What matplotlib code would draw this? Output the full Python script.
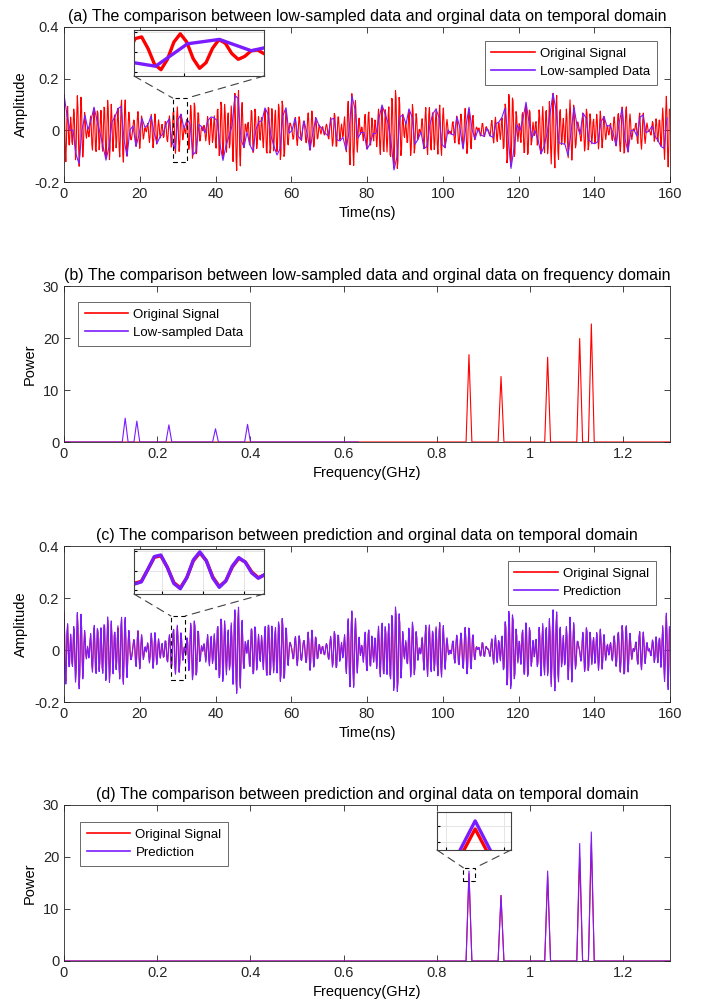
import numpy as np
import matplotlib
matplotlib.use('Agg')
import matplotlib.pyplot as plt
from matplotlib.patches import ConnectionPatch, Rectangle

plt.rcParams['font.family'] = ['Liberation Sans', 'DejaVu Sans']

# spectral lines (b) and (d): bin index (1 bin = 1/160 GHz)
tone_bins = np.array([139, 150, 166, 177, 181])
orig_power = np.array([16.8, 12.6, 16.3, 19.9, 22.7])
pred_power = np.array([17.3, 12.6, 17.3, 22.6, 24.8])
# tone phases (rad), fitted to the burst pattern seen in panels (a)/(c)
phases = np.array([0.000, 4.937, 0.581, 0.802, 6.054])

T_total = 160.0      # ns
N0 = 1000            # samples of the original record
fs_low = 1.2625      # GHz, low sampling rate (aliases seen in panel b)

f_tone = tone_bins / T_total
t0 = np.arange(N0) * T_total / N0
t1 = np.arange(int(round(T_total * fs_low))) / fs_low


def synth(t, power):
    a = power * 2 / N0
    return (a[:, None] * np.cos(2 * np.pi * f_tone[:, None] * t[None, :] + phases[:, None])).sum(0)


orig = synth(t0, orig_power)
pred = synth(t0, pred_power)
low = synth(t1, orig_power)


def spectrum(x, fs):
    n = len(x)
    f = np.arange(n // 2 + 1) * fs / n
    return f, np.abs(np.fft.rfft(x))


RED = '#ff0000'
PUR = '#7a1cff'
W, H = 702, 1007
fig = plt.figure(figsize=(W / 100, H / 100), dpi=100)


def px_axes(l, t, r, b):
    return fig.add_axes([l / W, 1 - b / H, (r - l) / W, (b - t) / H])


def style(ax):
    for s in ax.spines.values():
        s.set_color('#262626'); s.set_linewidth(0.6)
    ax.tick_params(direction='in', top=True, right=True, length=4, width=0.6,
                   colors='#262626', labelsize=10.5)


def legend(ax, labels, loc, anchor):
    lg = ax.legend(labels, loc=loc, bbox_to_anchor=anchor, borderaxespad=0, fontsize=9.5,
                   frameon=True, fancybox=False, handlelength=3.3, labelspacing=0.45,
                   borderpad=0.5, handletextpad=0.4)
    lg.get_frame().set_edgecolor('#262626'); lg.get_frame().set_linewidth(0.6)
    for h in lg.get_lines():
        h.set_linewidth(1.2)


def inset(ax, box, rect, xlim, ylim, series):
    ins = px_axes(*box)
    for x, y, c in series:
        ins.plot(x, y, color=c, lw=2.4)
    ins.set_xlim(*xlim); ins.set_ylim(*ylim)
    ins.grid(True, color='#e0e0e0', lw=0.6)
    ins.tick_params(direction='in', length=2, labelbottom=False, labelleft=False)
    for s in ins.spines.values():
        s.set_color('#404040'); s.set_linewidth(0.8)
    ax.add_patch(Rectangle((rect[0], rect[2]), rect[1] - rect[0], rect[3] - rect[2], fill=False,
                           ls=(0, (4, 3)), lw=0.8, ec='k', zorder=5))
    for xa, xb in ((0, rect[0]), (1, rect[1])):
        fig.add_artist(ConnectionPatch(xyA=(xa, 0), coordsA=ins.transAxes, xyB=(xb, rect[3]),
                                       coordsB=ax.transData, ls=(0, (7, 5)), lw=0.8, color='#404040'))


def freq_axis(ax):
    ax.set_xlim(0, 1.3); ax.set_ylim(0, 30)
    ax.set_xticks([0, 0.2, 0.4, 0.6, 0.8, 1.0, 1.2])
    ax.set_xticklabels(['0', '0.2', '0.4', '0.6', '0.8', '1', '1.2'])
    ax.set_yticks([0, 10, 20, 30])
    style(ax)
    ax.set_xlabel('Frequency(GHz)', fontsize=10.5)
    ax.set_ylabel('Power', fontsize=10.5)


def time_axis(ax):
    ax.set_xlim(0, 160); ax.set_ylim(-0.2, 0.4)
    ax.set_yticks([-0.2, 0, 0.2, 0.4]); ax.set_yticklabels(['-0.2', '0', '0.2', '0.4'])
    style(ax)
    ax.set_xlabel('Time(ns)', fontsize=10.5)
    ax.set_ylabel('Amplitude', fontsize=10.5)


# (a)
ax = px_axes(64, 27, 670, 182)
ax.plot(t0, orig, color=RED, lw=0.8)
ax.plot(t1, low, color=PUR, lw=0.8)
time_axis(ax)
ax.set_title('(a) The comparison between low-sampled data and orginal data on temporal domain', fontsize=11.5, pad=4)
legend(ax, ['Original Signal', 'Low-sampled Data'], 'upper right', (1 - 13 / 606, 1 - 14 / 155))
inset(ax, (134, 30, 264, 76), (28.7, 32.55, -0.124, 0.125), (28.77, 32.0), (-0.12, 0.11),
      [(t0, orig, RED), (t1, low, PUR)])

# (b)
ax = px_axes(64, 286, 670, 442)
f, s = spectrum(orig, N0 / T_total)
ax.plot(f, s, color=RED, lw=0.8)
fl, sl = spectrum(low, fs_low)
ax.plot(fl, sl, color=PUR, lw=0.8)
freq_axis(ax)
ax.set_title('(b) The comparison between low-sampled data and orginal data on frequency domain', fontsize=11.5, pad=4)
legend(ax, ['Original Signal', 'Low-sampled Data'], 'upper left', (14 / 606, 1 - 16 / 156))

# (c)
ax = px_axes(64, 546, 670, 702)
ax.plot(t0, orig, color=RED, lw=0.8)
ax.plot(t0, pred, color=PUR, lw=0.8)
time_axis(ax)
ax.set_title('(c) The comparison between prediction and orginal data on temporal domain', fontsize=11.5, pad=4)
legend(ax, ['Original Signal', 'Prediction'], 'upper right', (1 - 14 / 606, 1 - 15 / 156))
inset(ax, (134, 549, 264, 594), (28.2, 32.0, -0.115, 0.131), (28.3, 31.5), (-0.12, 0.11),
      [(t0, orig, RED), (t0, pred, PUR)])

# (d)
ax = px_axes(64, 805, 670, 961)
ax.plot(f, s, color=RED, lw=0.8)
fp, sp = spectrum(pred, N0 / T_total)
ax.plot(fp, sp, color=PUR, lw=0.8)
freq_axis(ax)
ax.set_title('(d) The comparison between prediction and orginal data on temporal domain', fontsize=11.5, pad=4)
legend(ax, ['Original Signal', 'Prediction'], 'upper left', (16 / 606, 1 - 17 / 156))
inset(ax, (437, 812, 511, 850), (0.8566, 0.8823, 15.38, 17.94), (0.8671, 0.8703), (15.5, 17.85),
      [(f, s, RED), (fp, sp, PUR)])

fig.savefig('out.png', dpi=100)
